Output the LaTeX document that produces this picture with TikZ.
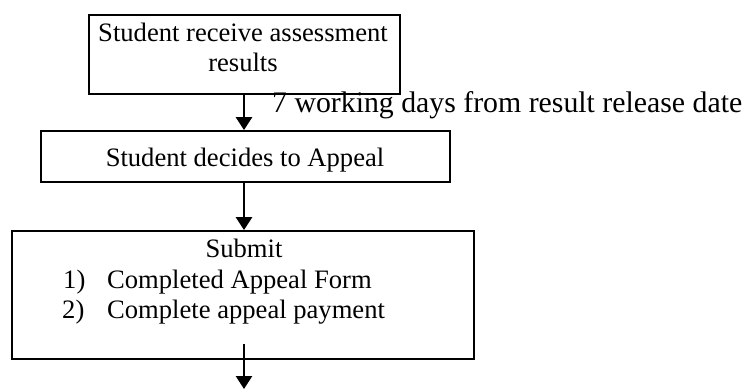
\documentclass[tikz,border=0pt]{standalone}
\usepackage{fontspec}
\setmainfont{Liberation Serif}
\usetikzlibrary{arrows.meta}
\begin{document}
\begin{tikzpicture}[x=1pt,y=-1pt,
  box/.style={draw,line width=1.8pt,inner sep=0pt},
  txt/.style={inner sep=0pt,anchor=base,font=\fontsize{26.6}{30}\selectfont},
  lbl/.style={inner sep=0pt,anchor=base west,font=\fontsize{29.8}{32}\selectfont},
  flow/.style={line width=2.6pt,-{Triangle[width=16pt,length=13pt]}}]
\useasboundingbox (0,0) rectangle (746,390);
% boxes
\node[box,minimum width=311pt,minimum height=79pt] (b1) at (244.5,54.5) {};
\node[box,minimum width=409pt,minimum height=51pt] (b2) at (245.5,156.5) {};
\node[box,minimum width=462pt,minimum height=128pt] (b3) at (243,295) {};
% texts
\node[txt] (t1a) at (243,42) {Student receive assessment};
\node[txt] (t1b) at (243,72) {results};
\node[txt] (t2) at (245,167) {Student decides to Appeal};
\node[txt] (t3) at (244,257) {Submit};
\node[txt,anchor=base west] (n1) at (63,288) {1)};
\node[txt,anchor=base west] (i1) at (107,288) {Completed Appeal Form};
\node[txt,anchor=base west] (n2) at (62,318) {2)};
\node[txt,anchor=base west] (i2) at (107,318) {Complete appeal payment};
\node[lbl] (l1) at (272,113) {7 working days from result release date};
% connectors
\coordinate (a3s) at (244,344);
\coordinate (a3e) at (244,389);
\draw[flow] (b1.south -| 244,0) -- (b2.north -| 244,0);
\draw[flow] (b2.south -| 244,0) -- (b3.north -| 244,0);
\draw[flow] (a3s) -- (a3e);
\end{tikzpicture}
\end{document}
